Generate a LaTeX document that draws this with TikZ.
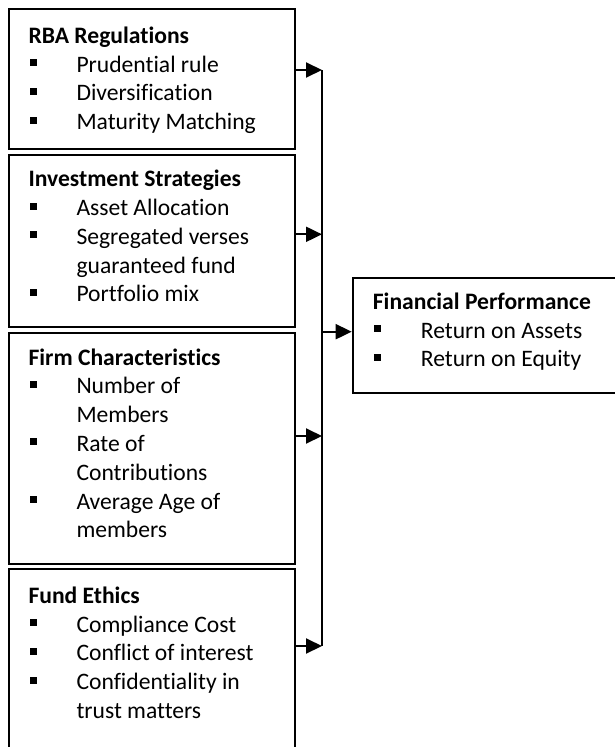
\documentclass[tikz,border=0pt]{standalone}
\usepackage{fontspec}
\setmainfont{Carlito}[Ligatures=NoCommon]
\usetikzlibrary{arrows.meta,calc}
% one line of a box: heading, bulleted item, or continuation of an item
\newcommand{\hd}[1]{\hbox{\bfseries #1}}
\newcommand{\bul}[1]{\hbox{\makebox[48pt][l]{\hspace{1pt}\rule[6pt]{7pt}{7pt}}#1}}
\newcommand{\cont}[1]{\hbox{\hspace{48pt}#1}}
\begin{document}
\begin{tikzpicture}[x=1pt,y=1pt,
  box/.style={draw,line width=2pt,rectangle,inner sep=0pt,minimum width=286pt,anchor=north west},
  txt/.style={anchor=base west,inner sep=0pt,font=\fontsize{23.6}{28.8}\selectfont},
  feed/.style={line width=2pt,-{Triangle[length=16pt,width=15pt]}},
  bus/.style={line width=2.2pt}
]
\clip (0,0) rectangle (615,-747);
\fill[white] (0,0) rectangle (615,-747);

% factor boxes
\node[box,minimum height=140pt]   (r1) at (8,-8) {};
\node[box,minimum height=171.7pt] (r2) at (8,-154) {};
\node[box,minimum height=231pt]   (r3) at (8,-332.3) {};
\node[box,minimum height=192pt]   (r4) at (8,-568.3) {};
% outcome box
\node[box,minimum width=270pt,minimum height=115.3pt] (fp) at (351.7,-276.7) {};

% box contents
\node[txt] (t1) at ($(r1.north west)+(20.3,-35.3)$) {\vtop{%
  \hd{RBA Regulations}
  \bul{Prudential rule}
  \bul{Diversification}
  \bul{Maturity Matching}}};
\node[txt] (t2) at ($(r2.north west)+(20.3,-32.7)$) {\vtop{%
  \hd{Investment Strategies}
  \bul{Asset Allocation}
  \bul{Segregated verses}
  \cont{guaranteed fund}
  \bul{Portfolio mix}}};
\node[txt] (t3) at ($(r3.north west)+(20.3,-32.7)$) {\vtop{%
  \hd{Firm Characteristics}
  \bul{Number of}
  \cont{Members}
  \bul{Rate of}
  \cont{Contributions}
  \bul{Average Age of}
  \cont{members}}};
\node[txt] (t4) at ($(r4.north west)+(20.3,-35)$) {\vtop{%
  \hd{Fund Ethics}
  \bul{Compliance Cost}
  \bul{Conflict of interest}
  \bul{Confidentiality in}
  \cont{trust matters}}};
\node[txt] (tf) at ($(fp.north west)+(21,-32.6)$) {\vtop{%
  \hd{Financial Performance}
  \bul{Return on Assets}
  \bul{Return on Equity}}};

% collecting bus and its feeds
\coordinate (a1) at (322,-70);
\coordinate (a2) at (322,-234.3);
\coordinate (a3) at (322,-436);
\coordinate (a4) at (322,-646);
\coordinate (af) at (322,-331.7);
\draw[bus] (a1) -- (a4);
\draw[feed] (r1.east |- a1) -- (a1);
\draw[feed] (r2.east |- a2) -- (a2);
\draw[feed] (r3.east |- a3) -- (a3);
\draw[feed] (r4.east |- a4) -- (a4);
\draw[feed] (af) -- (af -| fp.west);
\end{tikzpicture}
\end{document}
